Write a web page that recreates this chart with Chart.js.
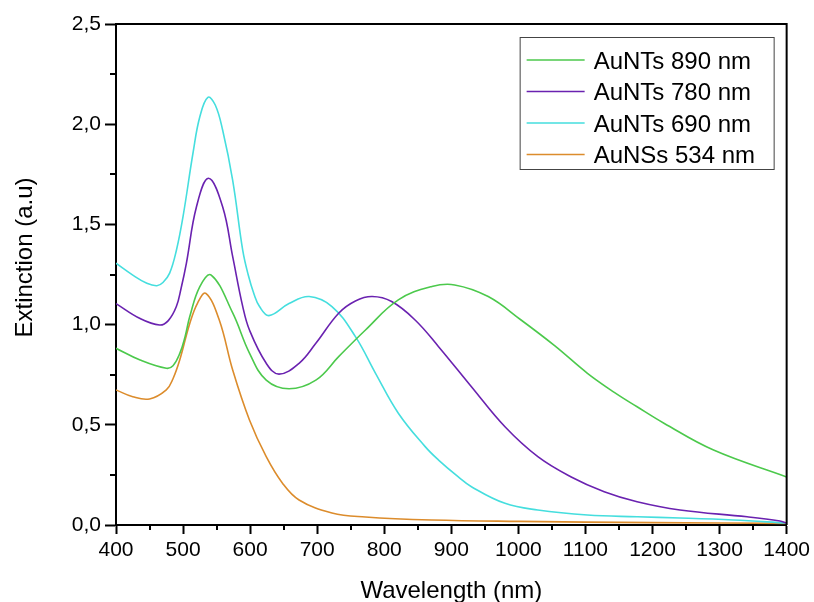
<!DOCTYPE html>
<html>
<head>
<meta charset="utf-8">
<script src="https://cdn.jsdelivr.net/npm/chart.js@4.4.0/dist/chart.umd.min.js"></script>
<style>
  html, body { margin: 0; padding: 0; background: #fff; }
  #c { display: block; }
</style>
</head>
<body>
<canvas id="c" width="814" height="602"></canvas>
<script>
// Extinction spectra of gold nanoparticles (wavelength in nm, extinction in a.u.)
const wlNT890 = [400, 436, 475, 485, 495, 503, 510, 525, 542, 574, 599, 624, 658, 698, 732, 772, 821, 871, 905, 955, 1004, 1054, 1103, 1143, 1177, 1217, 1291, 1400];
const extNT890 = [0.882, 0.823, 0.782, 0.795, 0.855, 0.94, 1.04, 1.19, 1.247, 1.058, 0.858, 0.723, 0.68, 0.723, 0.84, 0.973, 1.123, 1.19, 1.198, 1.14, 1.023, 0.895, 0.757, 0.662, 0.59, 0.508, 0.374, 0.24];

const wlNT780 = [400, 436, 465, 478, 490, 497, 505, 520, 538, 559, 574, 589, 599, 624, 643, 673, 698, 732, 757, 782, 811, 846, 881, 930, 980, 1029, 1078, 1128, 1177, 1241, 1341, 1390, 1400];
const extNT780 = [1.105, 1.03, 0.998, 1.02, 1.09, 1.18, 1.307, 1.588, 1.73, 1.588, 1.339, 1.09, 0.973, 0.807, 0.753, 0.807, 0.907, 1.057, 1.118, 1.14, 1.115, 1.023, 0.89, 0.69, 0.49, 0.341, 0.241, 0.166, 0.116, 0.075, 0.041, 0.02, 0.01];

const wlNT690 = [400, 425, 446, 461, 470, 480, 490, 500, 515, 525, 537, 548, 559, 574, 589, 597, 606, 614, 628, 658, 688, 722, 757, 787, 821, 861, 881, 910, 930, 980, 1029, 1103, 1177, 1241, 1320, 1400];
const extNT690 = [1.306, 1.247, 1.206, 1.194, 1.21, 1.257, 1.37, 1.54, 1.86, 2.037, 2.134, 2.096, 1.971, 1.72, 1.37, 1.25, 1.15, 1.09, 1.045, 1.105, 1.14, 1.09, 0.94, 0.757, 0.558, 0.391, 0.324, 0.241, 0.191, 0.108, 0.075, 0.05, 0.041, 0.035, 0.025, 0.01];

const wlNS534 = [400, 425, 450, 475, 485, 495, 510, 522, 534, 554, 574, 599, 624, 648, 673, 722, 772, 871, 1000, 1200, 1400];
const extNS534 = [0.674, 0.64, 0.629, 0.674, 0.73, 0.823, 1.006, 1.11, 1.156, 1.023, 0.773, 0.524, 0.341, 0.21, 0.125, 0.06, 0.04, 0.025, 0.018, 0.012, 0.008];

const seriesLabels = ['AuNTs 890 nm', 'AuNTs 780 nm', 'AuNTs 690 nm', 'AuNSs 534 nm'];
const seriesColors = ['#4cc94c', '#6a22b0', '#45dede', '#dc8c2c'];

const xTickValues = [400, 500, 600, 700, 800, 900, 1000, 1100, 1200, 1300, 1400];
const yTickValues = [0, 0.5, 1.0, 1.5, 2.0, 2.5];

const FONT = "'Liberation Sans', Arial, sans-serif";

function toPoints(xs, ys) {
  return xs.map((x, i) => ({ x: x, y: ys[i] }));
}

const seriesData = [
  toPoints(wlNT890, extNT890),
  toPoints(wlNT780, extNT780),
  toPoints(wlNT690, extNT690),
  toPoints(wlNS534, extNS534)
];

// Minor ticks, closed frame, axis titles and boxed legend
const framePlugin = {
  id: 'frame',
  afterDraw(chart) {
    const ctx = chart.ctx;
    const a = chart.chartArea;
    const xs = chart.scales.x, ys = chart.scales.y;
    ctx.save();
    ctx.strokeStyle = '#000';
    ctx.lineWidth = 2;
    // top and right frame lines
    ctx.beginPath();
    ctx.moveTo(a.left, a.top);
    ctx.lineTo(a.right, a.top);
    ctx.lineTo(a.right, a.bottom);
    ctx.stroke();
    // minor ticks
    ctx.beginPath();
    for (let i = 0; i < xTickValues.length - 1; i++) {
      const px = Math.round(xs.getPixelForValue((xTickValues[i] + xTickValues[i + 1]) / 2));
      ctx.moveTo(px, a.bottom);
      ctx.lineTo(px, a.bottom + 5);
    }
    for (let i = 0; i < yTickValues.length - 1; i++) {
      const py = Math.round(ys.getPixelForValue((yTickValues[i] + yTickValues[i + 1]) / 2));
      ctx.moveTo(a.left - 6, py);
      ctx.lineTo(a.left, py);
    }
    ctx.stroke();

    // axis titles
    ctx.fillStyle = '#000';
    ctx.font = '24px ' + FONT;
    ctx.textAlign = 'center';
    ctx.textBaseline = 'alphabetic';
    ctx.fillText('Wavelength (nm)', (a.left + a.right) / 2, 598);
    ctx.save();
    ctx.translate(32, (a.top + a.bottom) / 2 - 17);
    ctx.rotate(-Math.PI / 2);
    ctx.fillText('Extinction (a.u)', 0, 0);
    ctx.restore();

    // legend
    const boxW = 254, boxH = 132;
    const bx = a.right - 13 - boxW, by = a.top + 13;
    ctx.fillStyle = '#fff';
    ctx.fillRect(bx, by, boxW, boxH);
    ctx.lineWidth = 1;
    ctx.strokeStyle = '#444';
    ctx.strokeRect(bx + 0.5, by + 0.5, boxW, boxH);
    ctx.font = '24px ' + FONT;
    ctx.textAlign = 'left';
    chart.data.datasets.forEach((ds, i) => {
      const rowY = by + 23 + i * 31.5;
      ctx.strokeStyle = ds.borderColor;
      ctx.lineWidth = 1.5;
      ctx.beginPath();
      ctx.moveTo(bx + 7, rowY);
      ctx.lineTo(bx + 65, rowY);
      ctx.stroke();
      ctx.fillStyle = '#000';
      ctx.fillText(ds.label, bx + 74, rowY + 8.5);
    });
    ctx.restore();
  }
};

const tickFont = { family: FONT, size: 21 };

new Chart(document.getElementById('c'), {
  type: 'line',
  data: {
    datasets: seriesData.map((pts, i) => ({
      label: seriesLabels[i],
      data: pts,
      borderColor: seriesColors[i],
      backgroundColor: seriesColors[i],
      borderWidth: 1.6,
      pointRadius: 0,
      fill: false,
      tension: 0.4
    }))
  },
  options: {
    responsive: false,
    animation: false,
    devicePixelRatio: 1,
    layout: { padding: { top: 24, right: 24, left: 0, bottom: 0 } },
    plugins: { legend: { display: false }, tooltip: { enabled: false } },
    scales: {
      x: {
        type: 'linear',
        min: 400,
        max: 1400,
        afterBuildTicks: (s) => { s.ticks = xTickValues.map(v => ({ value: v })); },
        ticks: {
          autoSkip: false,
          maxRotation: 0,
          color: '#000',
          font: tickFont,
          padding: 4,
          callback: (v) => String(v)
        },
        grid: { drawOnChartArea: false, drawTicks: true, tickLength: 9, tickWidth: 2, tickColor: '#000' },
        border: { display: true, color: '#000', width: 2 },
        afterFit: (s) => { s.height = 77; }
      },
      y: {
        type: 'linear',
        min: 0,
        max: 2.5,
        afterBuildTicks: (s) => { s.ticks = yTickValues.map(v => ({ value: v })); },
        ticks: {
          autoSkip: false,
          color: '#000',
          font: tickFont,
          padding: 4,
          callback: (v) => Number(v).toFixed(1).replace('.', ',')
        },
        grid: { drawOnChartArea: false, drawTicks: true, tickLength: 11, tickWidth: 2, tickColor: '#000' },
        border: { display: true, color: '#000', width: 2 },
        afterFit: (s) => { s.width = 116; }
      }
    }
  },
  plugins: [framePlugin]
});
</script>
</body>
</html>
